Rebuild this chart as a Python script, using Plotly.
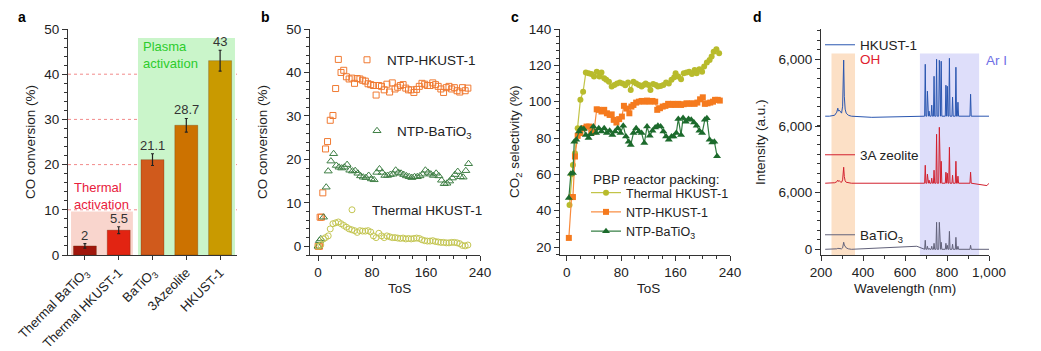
import plotly.graph_objects as go

W, H = 1041, 351
FONT = "Liberation Sans, Arial, Helvetica, sans-serif"
INK = "#222222"
AX = "#333333"
FS = 13.5
FSA = 13

# ---------------- panel a data ----------------
A_CATS = ["Thermal BaTiO<sub>3</sub>", "Thermal HKUST-1", "BaTiO<sub>3</sub>", "3Azeolite", "HKUST-1"]
A_VALS = [2, 5.5, 21.1, 28.7, 43]
A_ERR = [0.5, 0.75, 1.3, 1.5, 2.3]
A_COLORS = ["#a0160c", "#e22412", "#d05a1c", "#cc7200", "#c99a00"]

# ---------------- panel b data ----------------
B_HK_TOS = [0, 2, 3, 5, 7, 11, 14, 18, 22, 26,
            30, 34, 38, 42, 46, 50, 54, 58, 62, 66,
            70, 74, 78, 82, 86, 90, 94, 98, 102, 106,
            110, 114, 118, 122, 126, 130, 134, 138, 142, 146,
            150, 154, 158, 162, 166, 170, 174, 178, 182, 186,
            190, 194, 198, 202, 206, 210, 214, 218, 222]
B_HK_VAL = [0, 0, 6.7, 6.7, 12.3, 22.4, 24.1, 29, 30.1, 36.3,
            43, 40, 40.5, 39, 38.5, 38.7, 37.5, 38.6, 38.5, 38.2,
            38, 37.4, 37.2, 37, 34.8, 37, 36.8, 36, 37.3, 35.5,
            37.6, 36.2, 36.6, 37, 37.2, 36.4, 36, 36, 35.4, 36.1,
            36.8, 37.5, 37.3, 37, 37, 37.6, 37.2, 36.8, 36.2, 35.4,
            36.5, 36.8, 36.2, 36.5, 35.8, 35.5, 36.5, 35.8, 36.4]

B_BT_TOS = [0, 2, 4, 8, 12, 15,
            19, 23, 27, 31, 35, 39, 43, 47, 51, 55,
            59, 63, 67, 71, 75, 79, 83, 87, 91, 95,
            99, 103, 107, 111, 115, 119, 123, 127, 131, 135,
            139, 143, 147, 151, 155, 159, 163, 167, 171, 175,
            179, 183, 187, 191, 195, 199, 203, 207, 211, 215,
            219, 223]
B_BT_VAL = [0, 1.3, 1.7, 6.7, 13.6, 17.3,
            19.6, 21.3, 18.6, 18.2, 18.0, 18.2, 18.8, 17.5, 17.3, 17.4,
            16.8, 16.2, 15.9, 15.8, 16.3, 15.5, 15.3, 17.0, 17.8, 17.0,
            16.3, 16.3, 16.5, 16.6, 17.5, 17.0, 16.8, 16.5, 16.2, 16.0,
            15.8, 16.0, 16.0, 16.2, 16.6, 17.5, 17.0, 16.6, 16.3, 16.8,
            16.2, 15.2, 14.4, 14.5, 15.0, 15.7, 16.5, 17.2, 16.0, 15.9,
            17.4, 19.0]

B_TH_TOS = [0, 4, 8, 11, 15,
            18, 22, 26, 30, 34, 38, 42, 46, 50, 54,
            58, 62, 66, 70, 74, 78, 82, 86, 90, 94,
            98, 102, 106, 110, 114, 118, 122, 126, 130, 134,
            138, 142, 146, 150, 154, 158, 162, 166, 170, 174,
            178, 182, 186, 190, 194, 198, 202, 206, 210, 214,
            218, 222]
B_TH_VAL = [0, 0.3, 1.7, 2.0, 2.4,
            4.0, 5.2, 5.4, 5.6, 5.2, 4.8, 4.4, 4.0, 3.8, 3.6,
            3.2, 3.6, 3.5, 3.5, 3.6, 3.3, 2.4, 2.0, 3.0, 2.4,
            2.0, 2.4, 2.2, 2.0, 2.0, 1.9, 1.8, 1.9, 1.7, 1.8,
            1.7, 1.8, 1.9, 1.8, 1.5, 1.3, 1.2, 1.2, 1.3, 1.1,
            1.0, 0.9, 0.9, 0.8, 0.8, 0.9, 0.9, 0.8, 0.6, 0.2,
            0.1, 0.3]

# ---------------- panel c data ----------------
C_TH_TOS = [4, 7, 9, 12, 16, 20, 24, 28, 32,
            36, 40, 44, 48, 51, 55, 58, 62, 66, 70,
            74, 78, 82, 86, 90, 94, 98, 102, 106, 110,
            113, 116, 120, 123, 127, 131, 134, 138, 142, 146,
            150, 154, 158, 160, 164, 168, 172, 176, 180, 184,
            188, 191, 195, 199, 202, 206, 210, 213, 216, 220,
            224]
C_TH_VAL = [43.1, 60, 65.2, 71.6, 85.3, 101, 105.5, 116, 115.6,
            115.2, 113.8, 116.5, 113.8, 116, 112.9, 112, 111, 108.3, 109.2,
            110, 110.5, 110, 109, 110.6, 106.4, 111, 110, 109.2, 108.3,
            109.2, 110, 109.2, 106.4, 109.7, 109.2, 108.3, 108.6, 109.2, 110.5,
            110, 112, 113.4, 115.6, 113.8, 112.3, 115.6, 116, 116.5, 115.2,
            117.4, 115.6, 117.8, 116.5, 119.3, 121.5, 123, 124.8, 127.5, 128.8,
            126.6]

C_HK_TOS = [3, 7, 9, 12, 16, 20, 25, 29, 33, 36,
            40, 44, 47, 51, 55, 59, 63, 66, 69, 73,
            77, 81, 84, 88, 92, 95, 98, 102, 106, 110,
            114, 118, 122, 126, 130, 133, 137, 141, 145, 149,
            153, 156, 160, 164, 168, 172, 176, 180, 184, 188,
            192, 196, 200, 203, 207, 211, 215, 218, 222, 225]
C_HK_VAL = [25, 47.5, 47.5, 69.8, 81.2, 82.7, 85.4, 86.3, 86.3, 83,
            83.6, 95.8, 95.5, 94.6, 95.5, 93.6, 92.7, 93, 90, 88.5,
            90.4, 91.8, 97.7, 96.2, 93.6, 97.3, 98.2, 99.5, 100, 100.4,
            100, 100.6, 100, 100.4, 100, 95.5, 96.4, 97.3, 97.7, 98.8,
            98.2, 98.8, 98.2, 98.8, 98.2, 98.6, 99.1, 98.8, 99.1, 98.8,
            99.5, 101.3, 102.4, 98.8, 99.1, 99.5, 100, 101, 101, 100.6]

C_BT_TOS = [3, 6, 9, 11, 14, 18, 21, 25, 28, 32,
            35, 39, 43, 47, 51, 55, 59, 63, 67, 71,
            75, 79, 83, 87, 91, 94, 98, 102, 106, 110,
            114, 118, 122, 126, 130, 134, 138, 142, 146, 150,
            154, 157, 161, 164, 168, 171, 175, 179, 183, 187,
            191, 195, 199, 203, 206, 210, 214, 217, 221]
C_BT_VAL = [47, 60.3, 60.7, 78, 79, 83.6, 85.4, 84.9, 81.7, 80,
            82, 86.3, 82.7, 85.4, 83.6, 85.4, 82.7, 84, 81.7, 83.6,
            85.4, 82.7, 86.7, 80.8, 78, 76.2, 82.7, 85.4, 83.6, 82.7,
            77.2, 86.3, 81.2, 84, 85.8, 86.7, 86.3, 83.6, 80.8, 79,
            80.8, 80.8, 82.7, 90.5, 81.7, 91, 89, 90.4, 90, 88.5,
            86.7, 84, 82.7, 90, 90.9, 79, 77.5, 78, 70]

# ---------------- panel d data ----------------
OH_WL = [240, 265, 275, 280, 283, 287, 292, 298, 303, 306, 308, 311, 315, 320, 330, 345]
HK_OH = [0, 100, 420, 840, 530, 630, 420, 320, 1050, 3150, 5900, 2100, 740, 320, 100, 0]
ZEO_OH = [0, 50, 150, 320, 200, 250, 150, 100, 350, 900, 1680, 700, 250, 100, 50, 0]
BT_OH = [0, 20, 50, 100, 80, 90, 60, 50, 150, 400, 740, 450, 300, 150, 50, 0]

AR_WL = [696.5, 706.7, 714.7, 727.3, 738.4, 750.4, 763.5, 772.4, 794.8, 801.5,
         811.5, 826.5, 842.5, 852.1, 912.3]
HK_AR = [5460, 2630, 530, 1160, 4200, 5990, 5880, 5780, 3260, 3150,
         6090, 2000, 5150, 1470, 2310]
ZEO_AR = [1890, 950, 320, 530, 1370, 5150, 5880, 2310, 1160, 1050,
          3780, 840, 2310, 740, 1160]
BT_AR = [950, 320, 110, 320, 630, 2840, 2840, 740, 630, 420,
         1890, 530, 1260, 320, 420]

HK_EXTRA_WL, HK_EXTRA = [442], [-120]
ZEO_EXTRA_WL, ZEO_EXTRA = [990], [-250]
BT_EXTRA_WL, BT_EXTRA = [656.3], [320]

OFF_BT, OFF_ZEO, OFF_HK = 0, 6950, 14000
D_TICKTEXT = ["0", "6,000", "6,000", "6,000"]

for a_, b_ in [(B_HK_TOS, B_HK_VAL), (B_BT_TOS, B_BT_VAL), (B_TH_TOS, B_TH_VAL),
               (C_TH_TOS, C_TH_VAL), (C_HK_TOS, C_HK_VAL), (C_BT_TOS, C_BT_VAL)]:
    assert len(a_) == len(b_), (len(a_), len(b_))


def px(x):
    return x / W


def py(y):
    return 1 - y / H


YDOM = [py(255), py(29)]

fig = go.Figure()

# ---- panel a ----
fig.add_trace(go.Bar(
    x=A_CATS, y=A_VALS, width=0.68,
    marker=dict(color=A_COLORS, line=dict(color="rgba(90,40,0,0.35)", width=0.8)),
    error_y=dict(type="data", array=A_ERR, color="#222", thickness=1.2, width=1.5),
    xaxis="x", yaxis="y", showlegend=False))

# ---- panel b ----
fig.add_trace(go.Scatter(x=B_HK_TOS, y=B_HK_VAL, mode="markers", name="NTP-HKUST-1",
                         marker=dict(symbol="square-open", size=6, color="#f07a32", line=dict(width=1)),
                         xaxis="x2", yaxis="y2", legend="legend"))
fig.add_trace(go.Scatter(x=B_BT_TOS, y=B_BT_VAL, mode="markers", name="NTP-BaTiO<sub>3</sub>",
                         marker=dict(symbol="triangle-up-open", size=7, color="#3f7f45", line=dict(width=1)),
                         xaxis="x2", yaxis="y2", legend="legend2"))
fig.add_trace(go.Scatter(x=B_TH_TOS, y=B_TH_VAL, mode="markers", name="Thermal HKUST-1",
                         marker=dict(symbol="circle-open", size=6, color="#c4c652", line=dict(width=1)),
                         xaxis="x2", yaxis="y2", legend="legend3"))

# ---- panel c ----
fig.add_trace(go.Scatter(x=C_TH_TOS, y=C_TH_VAL, mode="lines+markers", name="Thermal HKUST-1",
                         line=dict(color="#c2c448", width=1.2),
                         marker=dict(symbol="circle", size=6, color="#b8bb2c"),
                         xaxis="x3", yaxis="y3", legend="legend4"))
fig.add_trace(go.Scatter(x=C_HK_TOS, y=C_HK_VAL, mode="lines+markers", name="NTP-HKUST-1",
                         line=dict(color="#f88a3c", width=1.2),
                         marker=dict(symbol="square", size=6, color="#f57a1e"),
                         xaxis="x3", yaxis="y3", legend="legend4"))
fig.add_trace(go.Scatter(x=C_BT_TOS, y=C_BT_VAL, mode="lines+markers", name="NTP-BaTiO<sub>3</sub>",
                         line=dict(color="#2f7a3e", width=1.2),
                         marker=dict(symbol="triangle-up", size=7, color="#1c6a2c"),
                         xaxis="x3", yaxis="y3", legend="legend4"))


# ---- panel d ----
def spectrum(oh_vals, ar_vals, ex_wl, ex_vals, offset):
    pts = [(220, 0), (1000, 0)]
    pts += list(zip(OH_WL, oh_vals))
    pts += list(zip(ex_wl, ex_vals))
    for w, v in zip(AR_WL, ar_vals):
        pts += [(w - 3, 0), (w, v), (w + 3, 0)]
    pts.sort()
    return [p[0] for p in pts], [p[1] + offset for p in pts]


for name, oh, ar, ewl, ev, off, col, lg in [
    ("HKUST-1", HK_OH, HK_AR, HK_EXTRA_WL, HK_EXTRA, OFF_HK, "#2a56b0", "legend5"),
    ("3A zeolite", ZEO_OH, ZEO_AR, ZEO_EXTRA_WL, ZEO_EXTRA, OFF_ZEO, "#d2202e", "legend6"),
    ("BaTiO<sub>3</sub>", BT_OH, BT_AR, BT_EXTRA_WL, BT_EXTRA, OFF_BT, "#62627a", "legend7"),
]:
    xs, ys = spectrum(oh, ar, ewl, ev, off)
    fig.add_trace(go.Scatter(x=xs, y=ys, mode="lines", name=name,
                             line=dict(color=col, width=1), xaxis="x4", yaxis="y4", legend=lg))

# ---- axes ----
base_ax = dict(showgrid=False, zeroline=False, showline=True, linecolor=AX, linewidth=1,
               ticks="outside", ticklen=5, tickwidth=1, tickcolor=AX,
               tickfont=dict(size=FS, color=INK, family=FONT), automargin=False, fixedrange=True)

fig.update_layout(
    xaxis=dict(base_ax, domain=[px(68), px(237)], range=[-0.5, 4.5], tickangle=-45,
               anchor="y", ticklen=4, tickfont=dict(size=FSA, color=INK, family=FONT)),
    yaxis=dict(base_ax, domain=YDOM, range=[0, 50], dtick=10, tick0=0, anchor="x",
               minor=dict(dtick=2, ticklen=3, tickcolor=AX, ticks="outside")),
    xaxis2=dict(base_ax, domain=[px(310), px(480)], range=[-12, 240], dtick=80, tick0=0,
                anchor="y2", minor=dict(dtick=20, ticklen=3, tickcolor=AX, ticks="outside")),
    yaxis2=dict(base_ax, domain=YDOM, range=[-2, 50], dtick=10, tick0=0, anchor="x2",
                minor=dict(dtick=2, ticklen=3, tickcolor=AX, ticks="outside")),
    xaxis3=dict(base_ax, domain=[px(560), px(730)], range=[-10, 240], dtick=80, tick0=0,
                anchor="y3", minor=dict(dtick=20, ticklen=3, tickcolor=AX, ticks="outside")),
    yaxis3=dict(base_ax, domain=YDOM, range=[15.6, 140], dtick=20, tick0=0, anchor="x3",
                minor=dict(dtick=4, ticklen=3, tickcolor=AX, ticks="outside")),
    xaxis4=dict(base_ax, domain=[px(821), px(989)], range=[200, 1000], dtick=200, tick0=0,
                tickformat=",", anchor="y4",
                minor=dict(dtick=100, ticklen=3, tickcolor=AX, ticks="outside")),
    yaxis4=dict(base_ax, domain=YDOM, range=[-600, 23170], tickmode="array",
                tickvals=[OFF_BT, OFF_BT + 6000, OFF_ZEO + 6000, OFF_HK + 6000],
                ticktext=D_TICKTEXT, anchor="x4",
                minor=dict(dtick=1000, tick0=0, ticklen=3, tickcolor=AX, ticks="outside")),
)

# ---- shapes ----
shapes = [
    dict(type="rect", xref="x", yref="y", x0=-0.41, x1=1.42, y0=0, y1=9.6,
         fillcolor="#f9d5cd", line=dict(width=0), layer="below"),
    dict(type="rect", xref="x", yref="y", x0=1.57, x1=4.44, y0=0, y1=48,
         fillcolor="#caf5ca", line=dict(width=0), layer="below"),
]
for yv in [10, 20, 30, 40]:
    shapes.append(dict(type="line", xref="x domain", yref="y", x0=0, x1=1, y0=yv, y1=yv,
                       line=dict(color="#f28a8a", width=1, dash="dot"), layer="below"))
shapes += [
    dict(type="rect", xref="x4", yref="y4", x0=250, x1=362, y0=-600, y1=20600,
         fillcolor="#fce0c6", line=dict(width=0), layer="below"),
    dict(type="rect", xref="x4", yref="y4", x0=671, x1=953, y0=-600, y1=20600,
         fillcolor="#dedefa", line=dict(width=0), layer="below"),
]

# ---- annotations ----
ann = []


def txt(x, y, s, size=FS, color=INK, xanchor="center", yanchor="middle", **kw):
    ann.append(dict(x=px(x), y=py(y), xref="paper", yref="paper", text=s, showarrow=False,
                    font=dict(size=size, color=color, family=FONT), xanchor=xanchor,
                    yanchor=yanchor, **kw))


for lbl, xx in [("a", 22), ("b", 265), ("c", 515), ("d", 757)]:
    txt(xx, 17, "<b>%s</b>" % lbl, size=14, color="#000")

txt(30, 142, "CO conversion (%)", textangle=-90)
txt(262, 142, "CO conversion (%)", textangle=-90)
txt(515, 142, "CO<sub>2</sub> selectivity (%)", textangle=-90)
txt(760, 142, "Intensity (a.u.)", textangle=-90)

for xr, xv, s in [("x2", 120, "ToS"), ("x3", 120, "ToS"), ("x4", 600, "Wavelength (nm)")]:
    ann.append(dict(x=xv, xref=xr, y=py(288), yref="paper", text=s, showarrow=False,
                    xanchor="center", yanchor="middle",
                    font=dict(size=FS, color=INK, family=FONT)))

for c, v, e in zip(A_CATS, A_VALS, A_ERR):
    ann.append(dict(x=c, xref="x", y=v + e, yref="y", text=f"{v:g}", showarrow=False,
                    yanchor="bottom", yshift=-1, font=dict(size=FSA, color="#333", family=FONT)))

txt(72, 178, "Thermal<br>activation", size=FSA, color="#e8203c", xanchor="left", yanchor="top", align="left")
txt(141, 37, "Plasma<br>activation", size=FSA, color="#2ccc2c", xanchor="left", yanchor="top", align="left")
txt(858, 59, "OH", color="#e0202e", xanchor="left")
txt(984, 60, "Ar I", color="#6f6fe6", xanchor="left")
txt(591, 179, "PBP reactor packing:", xanchor="left")

leg_common = dict(bgcolor="rgba(0,0,0,0)", font=dict(size=FS, color=INK, family=FONT),
                  xanchor="left", yanchor="middle", itemwidth=30, tracegroupgap=0,
                  itemclick=False, itemdoubleclick=False)

fig.update_layout(
    width=W, height=H, margin=dict(l=0, r=0, t=0, b=0),
    paper_bgcolor="white", plot_bgcolor="rgba(0,0,0,0)",
    font=dict(family=FONT, size=FS, color=INK),
    shapes=shapes, annotations=ann, bargap=0.3,
    legend=dict(leg_common, x=px(347), y=py(60)),
    legend2=dict(leg_common, x=px(357), y=py(131)),
    legend3=dict(leg_common, x=px(332), y=py(210)),
    legend4=dict(leg_common, x=px(586), y=py(212), font=dict(size=12.5, color=INK, family=FONT)),
    legend5=dict(leg_common, x=px(820), y=py(45)),
    legend6=dict(leg_common, x=px(820), y=py(155)),
    legend7=dict(leg_common, x=px(820), y=py(235)),
)

fig.write_html("out.html")
